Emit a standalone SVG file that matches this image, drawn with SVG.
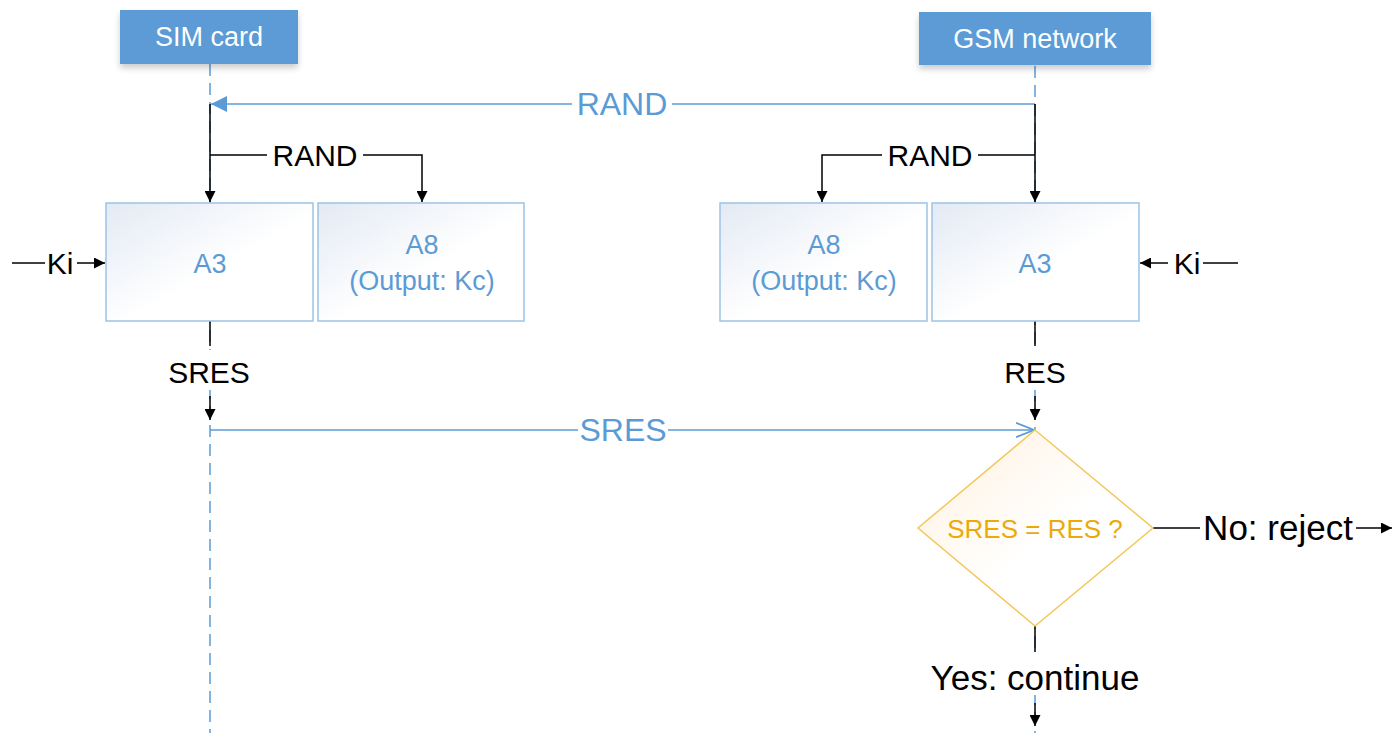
<svg xmlns="http://www.w3.org/2000/svg" width="1394" height="733" viewBox="0 0 1394 733">
<style>
.hdr{fill:#5B9BD5}
.hdrt{fill:#fff;font-family:"Liberation Sans",Arial,sans-serif;font-size:27px;text-anchor:middle}
.box{fill:url(#gb);stroke:#9DC3E6;stroke-width:1.5}
.boxt{fill:#5B9BD5;font-family:"Liberation Sans",Arial,sans-serif;font-size:27px;text-anchor:middle}
.life{stroke:#5B9BD5;stroke-width:1.5;stroke-dasharray:12 7;fill:none}
.blk{stroke:#000;stroke-width:1.5;fill:none}
.blu{stroke:#5B9BD5;stroke-width:1.5;fill:none}
.lbl{font-family:"Liberation Sans",Arial,sans-serif;font-size:30px;text-anchor:middle}
.big{font-size:35px}
.lk{fill:#000}
.lb{fill:#5B9BD5;font-size:32px}
</style>
<defs>
<linearGradient id="gb" x1="0" y1="0" x2="1" y2="1">
<stop offset="0" stop-color="#E3EAF4"/>
<stop offset="0.55" stop-color="#FFFFFF"/>
</linearGradient>
<linearGradient id="gd" x1="0" y1="0" x2="1" y2="1">
<stop offset="0" stop-color="#FFF0DC"/>
<stop offset="0.55" stop-color="#FFFFFF"/>
</linearGradient>
<filter id="sh" x="-10%" y="-10%" width="120%" height="140%">
<feGaussianBlur in="SourceAlpha" stdDeviation="3"/>
<feOffset dy="4"/>
<feComponentTransfer><feFuncA type="linear" slope="0.2"/></feComponentTransfer>
<feMerge><feMergeNode/><feMergeNode in="SourceGraphic"/></feMerge>
</filter>
<marker id="ak" viewBox="0 0 10 10" refX="10" refY="5" markerWidth="11" markerHeight="11" markerUnits="userSpaceOnUse" orient="auto">
<path d="M0,0 L10,5 L0,10 z" fill="#000"/>
</marker>
<marker id="ab" viewBox="0 0 10 10" refX="10" refY="5" markerWidth="16" markerHeight="16" markerUnits="userSpaceOnUse" orient="auto">
<path d="M0,0 L10,5 L0,10 z" fill="#5B9BD5"/>
</marker>
<marker id="ao" viewBox="0 0 10 10" refX="10" refY="5" markerWidth="18" markerHeight="18" markerUnits="userSpaceOnUse" orient="auto">
<path d="M0,1 L10,5 L0,9" fill="none" stroke="#5B9BD5" stroke-width="1"/>
</marker>
</defs>
<rect width="1394" height="733" fill="#fff"/>

<g id="lifelines">
<line class="life" x1="210" y1="64" x2="210" y2="733"/>
<line class="life" x1="1035" y1="66" x2="1035" y2="733"/>
</g>

<g id="sim-card">
<rect class="hdr" x="120" y="10" width="178" height="54" filter="url(#sh)"/>
<text class="hdrt" x="209" y="46">SIM card</text>
</g>
<g id="gsm-network">
<rect class="hdr" x="919" y="12" width="232" height="53" filter="url(#sh)"/>
<text class="hdrt" x="1035" y="48">GSM network</text>
</g>

<g id="connectors">
<line class="blu" x1="1035" y1="104" x2="211" y2="104" marker-end="url(#ab)"/>
<rect x="572" y="88" width="100" height="32" fill="#fff"/>
<text class="lbl lb" x="622" y="115">RAND</text>

<line class="blk" x1="210" y1="104" x2="210" y2="202" marker-end="url(#ak)"/>
<polyline class="blk" points="210,155 422,155 422,202" marker-end="url(#ak)"/>
<rect x="267" y="140" width="96" height="30" fill="#fff"/>
<text class="lbl lk" x="315" y="166">RAND</text>

<line class="blk" x1="1035" y1="104" x2="1035" y2="202" marker-end="url(#ak)"/>
<polyline class="blk" points="1035,155 822,155 822,202" marker-end="url(#ak)"/>
<rect x="882" y="140" width="96" height="30" fill="#fff"/>
<text class="lbl lk" x="930" y="166">RAND</text>

<line class="blk" x1="12" y1="263" x2="45" y2="263"/>
<text class="lbl lk" x="60" y="274">Ki</text>
<line class="blk" x1="77" y1="263" x2="105" y2="263" marker-end="url(#ak)"/>
<line class="blk" x1="1168" y1="263" x2="1140" y2="263" marker-end="url(#ak)"/>
<text class="lbl lk" x="1187" y="274">Ki</text>
<line class="blk" x1="1203" y1="263" x2="1238" y2="263"/>

<line class="blk" x1="210" y1="321" x2="210" y2="346"/>
<rect x="160" y="350" width="100" height="40" fill="#fff"/>
<text class="lbl lk" x="209" y="383">SRES</text>
<line class="blk" x1="210" y1="396" x2="210" y2="420" marker-end="url(#ak)"/>

<line class="blk" x1="1035" y1="321" x2="1035" y2="346"/>
<rect x="995" y="350" width="80" height="40" fill="#fff"/>
<text class="lbl lk" x="1035" y="383">RES</text>
<line class="blk" x1="1035" y1="396" x2="1035" y2="420" marker-end="url(#ak)"/>

<line class="blu" x1="210" y1="430" x2="1034" y2="430" marker-end="url(#ao)"/>
<rect x="578" y="414" width="90" height="32" fill="#fff"/>
<text class="lbl lb" x="623" y="441">SRES</text>

<line class="blk" x1="1153" y1="528" x2="1200" y2="528"/>
<text class="lbl lk big" x="1278" y="540">No: reject</text>
<line class="blk" x1="1356" y1="528" x2="1392" y2="528" marker-end="url(#ak)"/>

<line class="blk" x1="1035" y1="626" x2="1035" y2="652"/>
<rect x="920" y="655" width="230" height="40" fill="#fff"/>
<text class="lbl lk big" x="1035" y="690">Yes: continue</text>
<line class="blk" x1="1035" y1="703" x2="1035" y2="726" marker-end="url(#ak)"/>
</g>

<g id="sim-a3">
<rect class="box" x="106" y="203" width="207" height="118"/>
<text class="boxt" x="210" y="273">A3</text>
</g>
<g id="sim-a8">
<rect class="box" x="318" y="203" width="206" height="118"/>
<text class="boxt" x="422" y="254">A8</text>
<text class="boxt" x="422" y="290">(Output: Kc)</text>
</g>
<g id="gsm-a8">
<rect class="box" x="720" y="203" width="207" height="118"/>
<text class="boxt" x="824" y="254">A8</text>
<text class="boxt" x="824" y="290">(Output: Kc)</text>
</g>
<g id="gsm-a3">
<rect class="box" x="932" y="203" width="207" height="118"/>
<text class="boxt" x="1035" y="273">A3</text>
</g>

<g id="compare">
<polygon points="1035,430 1153,528 1035,626 918,528" fill="url(#gd)" stroke="#F2C85B" stroke-width="1.5"/>
<text x="1035" y="538" fill="#EBAA0A" font-family="'Liberation Sans',Arial,sans-serif" font-size="26" text-anchor="middle">SRES = RES ?</text>
</g>
</svg>
